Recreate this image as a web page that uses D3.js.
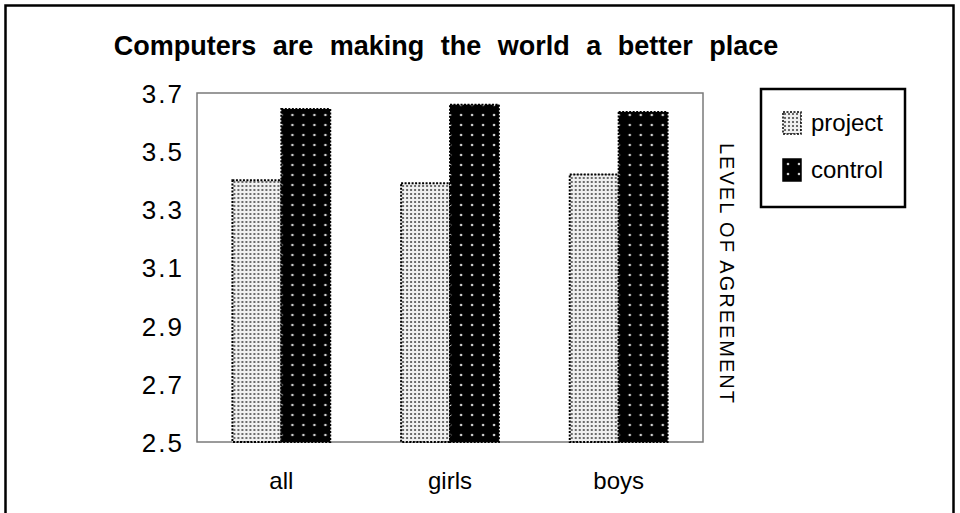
<!DOCTYPE html>
<html>
<head>
<meta charset="utf-8">
<script src="https://cdn.jsdelivr.net/npm/d3@7"></script>
<style>
  html, body { margin: 0; padding: 0; background: #fff; }
  svg { display: block; font-family: "Liberation Sans", Arial, sans-serif; }
</style>
</head>
<body>
<svg id="chart" width="960" height="513"></svg>
<script>
const categories = ["all", "girls", "boys"];
const seriesNames = ["project", "control"];
const projectValues = [3.40, 3.39, 3.42];
const controlValues = [3.645, 3.66, 3.635];
const yTicks = [2.5, 2.7, 2.9, 3.1, 3.3, 3.5, 3.7];
const titleText = "Computers are making the world a better place";
const yTitle = "LEVEL OF AGREEMENT";

const svg = d3.select("#chart");
const defs = svg.append("defs");

// light stipple pattern for project
const p1 = defs.append("pattern").attr("id", "patProject")
  .attr("patternUnits", "userSpaceOnUse").attr("width", 4).attr("height", 4);
p1.append("rect").attr("width", 4).attr("height", 4).attr("fill", "#f0f0f0");
p1.append("rect").attr("x", 1).attr("y", 1).attr("width", 2).attr("height", 2).attr("fill", "#6a6a6a");

// black with light dots for control
const p2 = defs.append("pattern").attr("id", "patControl")
  .attr("patternUnits", "userSpaceOnUse").attr("width", 11).attr("height", 10);
p2.append("rect").attr("width", 11).attr("height", 10).attr("fill", "#000");
p2.append("circle").attr("cx", 5).attr("cy", 5).attr("r", 1.3).attr("fill", "#cfcfcf");

const plot = { left: 197, right: 703, top: 93, bottom: 442 };

// outer border
svg.append("rect").attr("x", 5.5).attr("y", 5.5).attr("width", 948).attr("height", 530)
  .attr("fill", "none").attr("stroke", "#000").attr("stroke-width", 2.5);

// title
svg.append("text").attr("x", 446).attr("y", 55)
  .attr("text-anchor", "middle")
  .style("font-size", "27px").style("font-weight", "bold").style("word-spacing", "9px")
  .text(titleText);

const y = d3.scaleLinear().domain([2.5, 3.7]).range([plot.bottom, plot.top]);
const x0 = d3.scaleBand().domain(categories).range([plot.left, plot.right])
  .paddingInner(0.42).paddingOuter(0.21);
const x1 = d3.scaleBand().domain(seriesNames).range([0, x0.bandwidth()]).padding(0);

// plot frame
svg.append("rect").attr("x", plot.left).attr("y", plot.top)
  .attr("width", plot.right - plot.left).attr("height", plot.bottom - plot.top)
  .attr("fill", "none").attr("stroke", "#7a7a7a").attr("stroke-width", 1.5);

// bars
const data = categories.map((c, i) => ({ cat: c, vals: [
  { s: "project", v: projectValues[i] },
  { s: "control", v: controlValues[i] }
]}));

const groups = svg.append("g").selectAll("g").data(data).join("g")
  .attr("transform", d => `translate(${x0(d.cat)},0)`);
groups.selectAll("rect").data(d => d.vals).join("rect")
  .attr("x", d => x1(d.s))
  .attr("y", d => y(d.v))
  .attr("width", x1.bandwidth())
  .attr("height", d => y(2.5) - y(d.v))
  .attr("fill", d => d.s === "project" ? "url(#patProject)" : "url(#patControl)")
  .attr("stroke", "#000").attr("stroke-width", 2).attr("stroke-dasharray", "2,1.5");

// y axis labels
const yAxis = svg.append("g").attr("transform", `translate(${plot.left},0)`)
  .call(d3.axisLeft(y).tickValues(yTicks).tickSize(0).tickPadding(13).tickFormat(d3.format(".1f")));
yAxis.select(".domain").remove();
yAxis.selectAll("text").style("font-size", "26px").style("letter-spacing", "2px")
  .attr("fill", "#000").attr("dy", "0.36em").attr("font-family", null);

// x axis labels
const xAxis = svg.append("g").attr("transform", `translate(0,${plot.bottom})`)
  .call(d3.axisBottom(x0).tickSize(0).tickPadding(30));
xAxis.select(".domain").remove();
xAxis.selectAll("text").style("font-size", "24px").attr("fill", "#000").attr("font-family", null);

// y title (rotated)
svg.append("text")
  .attr("transform", "translate(720,274) rotate(90)")
  .attr("text-anchor", "middle")
  .style("font-size", "20px").style("letter-spacing", "2px")
  .text(yTitle);

// legend
const lg = svg.append("g");
lg.append("rect").attr("x", 761).attr("y", 89).attr("width", 144).attr("height", 118)
  .attr("fill", "#fff").attr("stroke", "#000").attr("stroke-width", 2.5);
const items = lg.selectAll("g.item").data(seriesNames).join("g").attr("class", "item")
  .attr("transform", (d, i) => `translate(783,${112 + i * 47})`);
items.append("rect").attr("width", 18).attr("height", 22)
  .attr("fill", d => d === "project" ? "url(#patProject)" : "url(#patControl)")
  .attr("stroke", "#000").attr("stroke-width", 1.5)
  .attr("stroke-dasharray", d => d === "project" ? "2,1.5" : null);
items.append("text").attr("x", 28).attr("y", 11).attr("dy", "0.35em")
  .style("font-size", "24px").text(d => d);
</script>
</body>
</html>
